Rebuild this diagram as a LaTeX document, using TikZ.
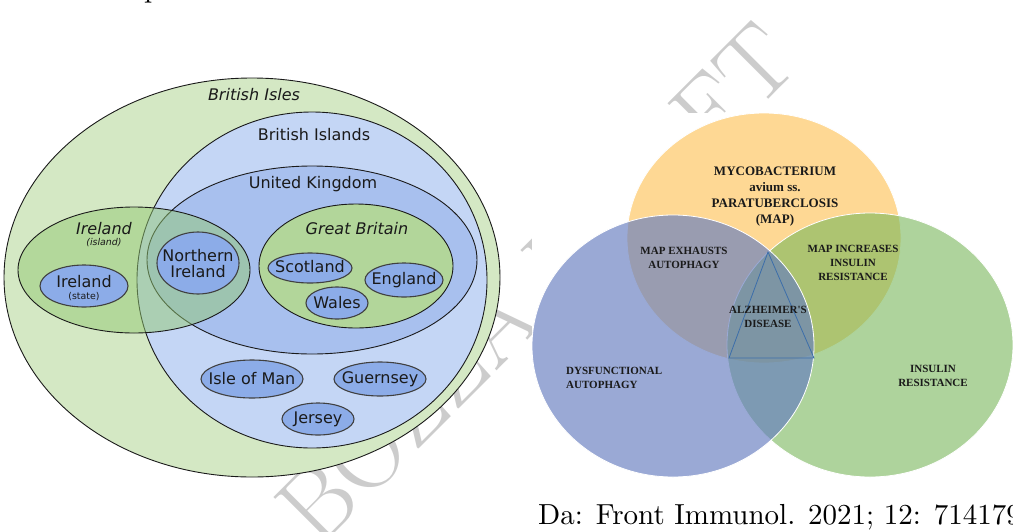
\documentclass[tikz,border=0pt]{standalone}
\usepackage{fontspec}
\usetikzlibrary{shapes.geometric}
\newfontfamily\dvs{DejaVu Sans}
\newfontfamily\libser{Liberation Serif}
\newfontfamily\lmten{lmroman10-regular.otf}
\definecolor{isles}{RGB}{212,232,196}
\definecolor{islands}{RGB}{196,214,245}
\definecolor{ukblue}{RGB}{168,192,238}
\definecolor{smallblue}{RGB}{140,172,232}
\definecolor{gbgreen}{RGB}{178,214,154}
\definecolor{irlgreen}{RGB}{147,201,115}
\definecolor{mapor}{RGB}{254,216,148}
\definecolor{vgreen}{RGB}{120,183,90}
\definecolor{vblue}{RGB}{100,124,192}
\definecolor{tri}{RGB}{60,110,170}
\definecolor{wm}{RGB}{204,204,204}
\definecolor{ink}{RGB}{26,26,26}
\tikzset{
  region/.style={ellipse, draw=ink, line width=0.9pt, inner sep=0pt},
  place/.style={ellipse, draw=black!75, line width=1.1pt, fill=smallblue, inner sep=0pt},
  lbl/.style={inner sep=0pt, text=ink, font=\dvs\fontsize{16}{16}\selectfont},
  ilbl/.style={lbl, font=\dvs\itshape\fontsize{16}{16}\selectfont},
  small/.style={inner sep=0pt, text=ink, font=\dvs\fontsize{9.4}{10}\selectfont},
  ismall/.style={small, font=\dvs\itshape\fontsize{9.4}{10}\selectfont},
  venn/.style={ellipse, inner sep=0pt, draw=white, line width=0.8pt, draw opacity=1},
  vt/.style={inner sep=0pt, text=ink, align=center, font=\libser\bfseries\fontsize{11}{14}\selectfont},
  vtbig/.style={vt, font=\libser\bfseries\fontsize{13}{16}\selectfont},
  wmk/.style={inner sep=0pt, text=wm, rotate=45, font=\fontsize{100}{100}\selectfont},
  body/.style={anchor=base west, inner sep=0pt, font=\lmten\fontsize{29}{34}\selectfont},
}
\begin{document}
\begin{tikzpicture}[x=1pt,y=-1pt]
\useasboundingbox (0,0) rectangle (1013,531);
% watermark
\node[wmk] (wmark) at (536,283) {BOZZA DRAFT};
% fragment of a text line above
\node[body] (frag) at (144,-2.5) {p};
% ---------------- left: British Isles ----------------
\node[region, fill=isles, minimum width=496pt, minimum height=399pt] (isles) at (252,277.5) {};
\node[region, fill=islands, minimum width=350pt, minimum height=336pt] (islands) at (312,280) {};
\node[region, fill=ukblue, minimum width=330pt, minimum height=188pt] (uk) at (312,260) {};
\node[region, fill=irlgreen, fill opacity=0.5, draw opacity=1, minimum width=232pt, minimum height=126pt] (irl) at (134,270) {};
\node[region, fill=gbgreen, minimum width=194pt, minimum height=124pt] (gb) at (356,266) {};
\node[place, minimum width=82pt, minimum height=62pt] (ni) at (198,263) {};
\node[place, minimum width=88pt, minimum height=42pt] (irs) at (84,286) {};
\node[place, minimum width=84pt, minimum height=30pt] (scot) at (310,268) {};
\node[place, minimum width=78pt, minimum height=34pt] (eng) at (404,280) {};
\node[place, minimum width=62pt, minimum height=32pt] (wal) at (337,303) {};
\node[place, minimum width=102pt, minimum height=38pt] (iom) at (252,379) {};
\node[place, minimum width=92pt, minimum height=34pt] (gue) at (380,379) {};
\node[place, minimum width=72pt, minimum height=32pt] (jer) at (318,419) {};
\node[ilbl] (tisles) at (254,95) {British Isles};
\node[lbl] (tislands) at (314,135) {British Islands};
\node[lbl] (tuk) at (313,184) {United Kingdom};
\node[ilbl] (tirl) at (104,229) {Ireland};
\node[ismall] (tisl) at (104,243) {(island)};
\node[ilbl] (tgb) at (357,229) {Great Britain};
\node[lbl, align=center, font=\dvs\fontsize{16}{16}\selectfont] (tni) at (198,264) {Northern\\Ireland};
\node[lbl] (tirs) at (84,282) {Ireland};
\node[small] (tstate) at (84,297) {(state)};
\node[lbl] (tscot) at (310,267) {Scotland};
\node[lbl] (teng) at (404,280) {England};
\node[lbl] (twal) at (337,303) {Wales};
\node[lbl] (tiom) at (252,379) {Isle of Man};
\node[lbl] (tgue) at (380,379) {Guernsey};
\node[lbl] (tjer) at (318,419) {Jersey};
% ---------------- right: Venn ----------------
\fill[white] (532,113) rectangle (1013,477);
\node[venn, fill=mapor, minimum width=274pt, minimum height=250pt] (map) at (764,238) {};
\node[venn, fill=vgreen, fill opacity=0.6, minimum width=286pt, minimum height=264pt] (ins) at (870,345) {};
\node[venn, fill=vblue, fill opacity=0.65, minimum width=282pt, minimum height=262pt] (dys) at (673,346) {};
\coordinate (ta) at (768,252);
\coordinate (tb) at (729,358);
\coordinate (tc) at (814,358);
\draw[tri, line width=0.8pt, line join=miter] (ta) -- (tb) -- (tc) -- cycle;
\node[vtbig] (tmap) at (775,197) {MYCOBACTERIUM\\avium ss.\\PARATUBERCLOSIS\\(MAP)};
\node[vt] (tmex) at (684,258) {MAP EXHAUSTS\\AUTOPHAGY};
\node[vt] (tmin) at (853,263) {MAP INCREASES\\INSULIN\\RESISTANCE};
\node[vt] (talz) at (768,317) {ALZHEIMER'S\\DISEASE};
\node[vt, align=left, anchor=west] (tdys) at (566,378) {DYSFUNCTIONAL\\AUTOPHAGY};
\node[vt] (tir) at (933,376) {INSULIN\\RESISTANCE};
% caption
\node[body] (cap) at (538,524) {Da: Front Immunol. 2021; 12: 714179};
\end{tikzpicture}
\end{document}
